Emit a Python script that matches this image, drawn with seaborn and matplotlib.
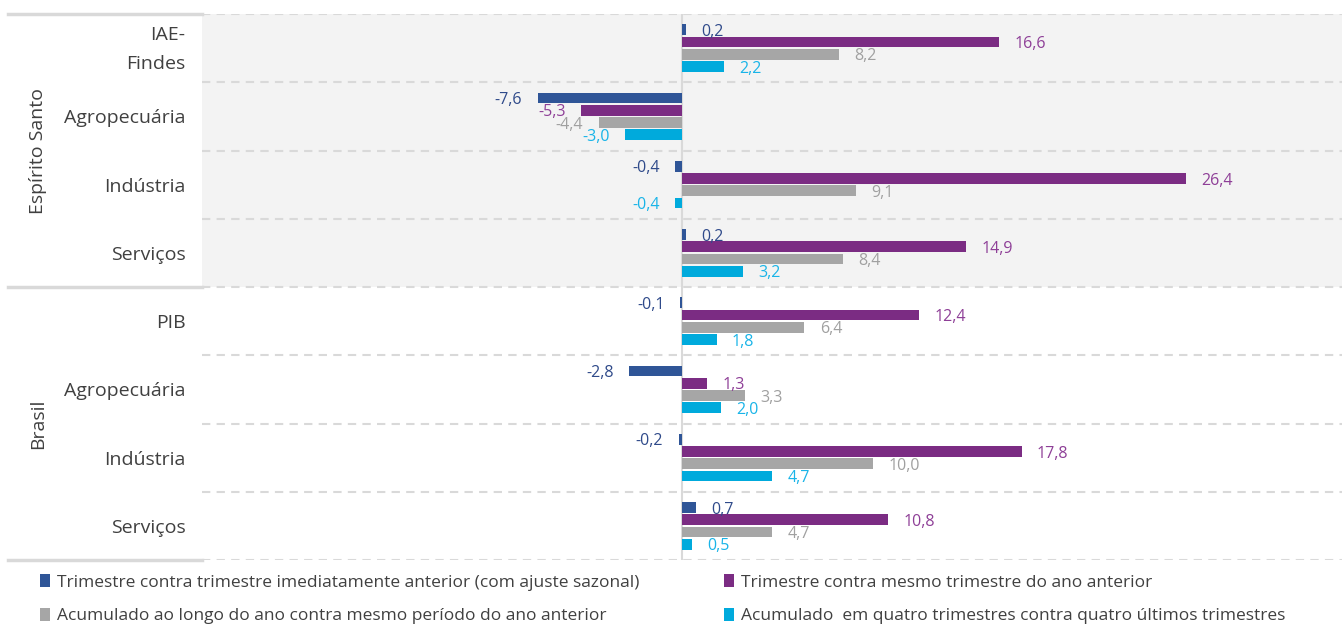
import numpy as np
import pandas as pd
import matplotlib
matplotlib.use("Agg")
import matplotlib.pyplot as plt
import matplotlib.transforms as mtransforms
from matplotlib.patches import Patch, Rectangle
import seaborn as sns

# ---------------- data ----------------
categorias = ["IAE-\nFindes", "Agropecuária", "Indústria", "Serviços",
              "PIB", "Agropecuária", "Indústria", "Serviços"]
grupos = ["Espírito Santo"] * 4 + ["Brasil"] * 4
series = [
    "Trimestre contra trimestre imediatamente anterior (com ajuste sazonal)",
    "Trimestre contra mesmo trimestre do ano anterior",
    "Acumulado ao longo do ano contra mesmo período do ano anterior",
    "Acumulado  em quatro trimestres contra quatro últimos trimestres",
]
tri_anterior = [0.2, -7.6, -0.4, 0.2, -0.1, -2.8, -0.2, 0.7]
tri_mesmo = [16.6, -5.3, 26.4, 14.9, 12.4, 1.3, 17.8, 10.8]
acum_ano = [8.2, -4.4, 9.1, 8.4, 6.4, 3.3, 10.0, 4.7]
acum_4tri = [2.2, -3.0, -0.4, 3.2, 1.8, 2.0, 4.7, 0.5]

cores_barras = ["#2F5597", "#7B2C83", "#A6A6A6", "#00AADC"]
cores_rotulos = ["#2F4A8A", "#8E3F97", "#A0A0A0", "#19B4E8"]

# ---------------- long table ----------------
row_ids = [f"r{i}" for i in range(len(categorias))]
valores = [tri_anterior, tri_mesmo, acum_ano, acum_4tri]
df = pd.DataFrame([
    {"linha": row_ids[i], "serie": series[s], "valor": valores[s][i]}
    for s in range(4) for i in range(len(categorias))
])

plt.rcParams["font.family"] = ["Open Sans", "DejaVu Sans"]
fig = plt.figure(figsize=(13.42, 6.25), dpi=100)
ax = fig.add_axes([202 / 1342, 1 - 560 / 625, 1140 / 1342, (560 - 14) / 625])

sns.barplot(data=df, y="linha", x="valor", hue="serie", order=row_ids,
            hue_order=series, palette=cores_barras, orient="h",
            width=0.72, gap=0.12, dodge=True, legend=False, ax=ax,
            saturation=1, errorbar=None)

ax.set_xlim(-25.2, 34.6)
ax.set_ylim(len(categorias) - 0.5, -0.5)

# background for Espírito Santo block
ax.add_patch(Rectangle((-25.2, -0.5), 60, 4, facecolor="#F3F3F3",
                       edgecolor="none", zorder=0))

# value labels
for s, cont in enumerate(ax.containers):
    for bar, v in zip(cont, valores[s]):
        yc = bar.get_y() + bar.get_height() / 2
        txt = f"{v:.1f}".replace(".", ",")
        if v >= 0:
            ax.annotate(txt, (v, yc), xytext=(11, -1.5), textcoords="offset points",
                        ha="left", va="center", fontsize=11.5,
                        color=cores_rotulos[s])
        else:
            ax.annotate(txt, (v, yc), xytext=(-11, -1.5), textcoords="offset points",
                        ha="right", va="center", fontsize=11.5,
                        color=cores_rotulos[s])

# grid lines
for b in [0.5, 1.5, 2.5, 4.5, 5.5, 6.5]:
    ax.axhline(b, color="#D9D9D9", lw=1.5, ls=(0, (4, 3)), zorder=0.5)
for b in [-0.5, 3.5, 7.5]:
    ax.axhline(b, color="#D9D9D9", lw=1.5, ls=(0, (4, 3)), zorder=0.5)
    ax.plot([-0.17, 0.0], [b, b], transform=ax.get_yaxis_transform(),
            color="#D9D9D9", lw=2.5, clip_on=False, zorder=0.5)
ax.axvline(0, color="#D9D9D9", lw=1.5, zorder=0.6)

# axes styling
for sp in ax.spines.values():
    sp.set_visible(False)
ax.set_xticks([])
ax.set_yticks(range(len(categorias)))
ax.set_yticklabels(categorias, fontsize=14, color="#404040", linespacing=1.8)
ax.tick_params(axis="y", length=0, pad=12)
ax.set_xlabel("")
ax.set_ylabel("")

# nudge the two-line label upward a little
lbl0 = ax.get_yticklabels()[0]
lbl0.set_transform(lbl0.get_transform() +
                   mtransforms.ScaledTranslation(0, 6 / 100, fig.dpi_scale_trans))

# group labels
ax.text(-0.144, 1.5, "Espírito Santo", rotation=90, ha="center", va="center",
        fontsize=14, color="#404040", transform=ax.get_yaxis_transform())
ax.text(-0.144, 5.5, "Brasil", rotation=90, ha="center", va="center",
        fontsize=14, color="#404040", transform=ax.get_yaxis_transform())

# legend
handles = [Patch(facecolor=c, edgecolor="none") for c in cores_barras]
order = [0, 2, 1, 3]
fig.legend([handles[i] for i in order], [series[i] for i in order],
           ncol=2, loc="lower left", bbox_to_anchor=(0.018, -0.024),
           frameon=False, fontsize=12.5, labelcolor="#404040",
           handlelength=0.6, handleheight=0.75, handletextpad=0.4,
           columnspacing=4.85, labelspacing=1.0)

fig.savefig("out.png", dpi=100, facecolor="white")
